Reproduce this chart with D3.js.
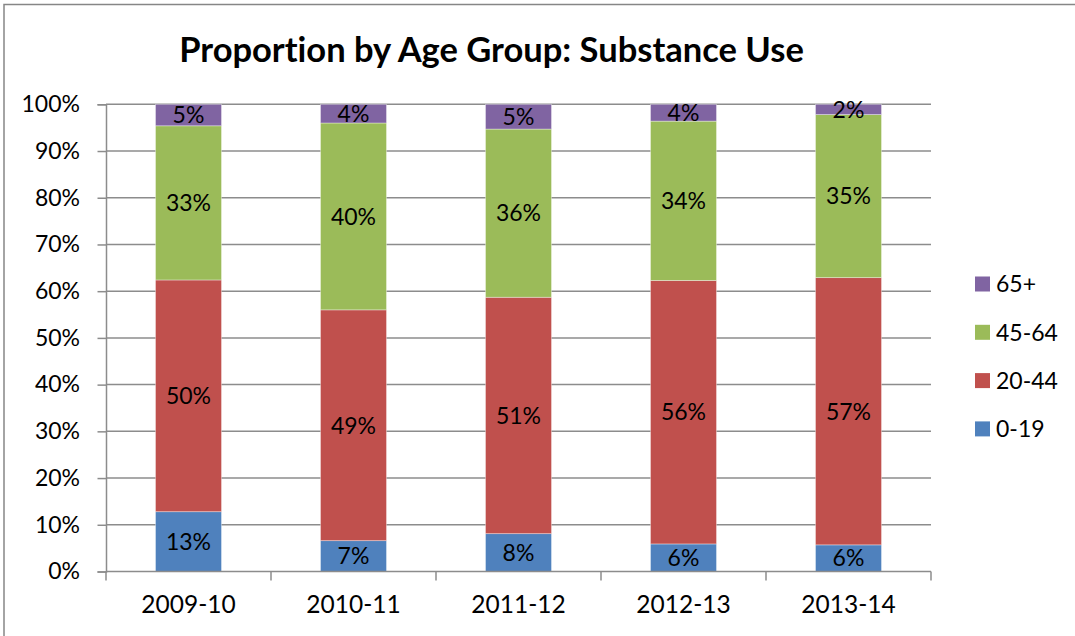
<!DOCTYPE html>
<html>
<head>
<meta charset="utf-8">
<script src="https://cdn.jsdelivr.net/npm/d3@7"></script>
<style>
  html, body { margin: 0; padding: 0; background: #fff; }
  svg { display: block; font-family: Lato, "Open Sans", sans-serif; font-variant-ligatures: none; }
</style>
</head>
<body>
<svg id="chart" width="1075" height="636"></svg>
<script>
// Fiscal years on the x axis
const years = ["2009-10", "2010-11", "2011-12", "2012-13", "2013-14"];

// Share of each age group per year (fractions of 1)
const age0to19  = [0.128, 0.066, 0.081, 0.059, 0.057];
const age20to44 = [0.496, 0.494, 0.506, 0.564, 0.572];
const age45to64 = [0.330, 0.400, 0.360, 0.341, 0.349];
const age65plus = [0.046, 0.040, 0.053, 0.036, 0.022];

const groups = ["0-19", "20-44", "45-64", "65+"];
const groupColors = ["#4F81BD", "#C0504D", "#9BBB59", "#8064A2"];

const yTicks = [0, 0.1, 0.2, 0.3, 0.4, 0.5, 0.6, 0.7, 0.8, 0.9, 1.0];

const rows = years.map((y, i) => ({
  year: y,
  "0-19": age0to19[i],
  "20-44": age20to44[i],
  "45-64": age45to64[i],
  "65+": age65plus[i]
}));

const svg = d3.select("#chart");
const W = 1075, H = 636;
const plot = { left: 106, right: 931, top: 104.3, bottom: 571.5 };
const fontSize = 23;
const axisGray = "#8c8c8c";

// Chart frame
svg.append("rect")
  .attr("x", 4).attr("y", 4.5)
  .attr("width", W + 10).attr("height", H + 10)
  .attr("fill", "#fff")
  .attr("stroke", "#868686").attr("stroke-width", 1.5);

// Title
svg.append("text")
  .attr("x", 491.5).attr("y", 62)
  .attr("text-anchor", "middle")
  .attr("font-weight", "bold")
  .attr("font-size", 34.5)
  .attr("fill", "#000")
  .text("Proportion by Age Group: Substance Use");

const x = d3.scaleBand()
  .domain(years)
  .range([plot.left, plot.right])
  .paddingInner(0.6)
  .paddingOuter(0.3);

const y = d3.scaleLinear()
  .domain([0, 1])
  .range([plot.bottom, plot.top]);

// Horizontal gridlines
svg.append("g")
  .selectAll("line")
  .data(yTicks.filter(t => t > 0))
  .join("line")
  .attr("x1", plot.left).attr("x2", plot.right)
  .attr("y1", d => y(d)).attr("y2", d => y(d))
  .attr("stroke", axisGray).attr("stroke-width", 1.5);

// Y axis
const yAxis = d3.axisLeft(y)
  .tickValues(yTicks)
  .tickFormat(d3.format(".0%"))
  .tickSize(8.5)
  .tickPadding(17.5);
const gy = svg.append("g")
  .attr("transform", `translate(${plot.left},0)`)
  .call(yAxis);
gy.select(".domain").attr("stroke", axisGray).attr("stroke-width", 1.5);
gy.selectAll(".tick line").attr("stroke", axisGray).attr("stroke-width", 1.5);
gy.selectAll(".tick text")
  .attr("font-size", fontSize).attr("fill", "#000")
  .attr("font-family", "Lato, sans-serif");

// Stacked bars
const stack = d3.stack().keys(groups);
const series = stack(rows);

const layers = svg.append("g")
  .selectAll("g")
  .data(series)
  .join("g")
  .attr("fill", (d, i) => groupColors[i]);

layers.selectAll("rect")
  .data(d => d)
  .join("rect")
  .attr("x", d => x(d.data.year))
  .attr("width", x.bandwidth())
  .attr("y", d => y(d[1]))
  .attr("height", d => y(d[0]) - y(d[1]))
  .attr("stroke", "rgba(255,255,255,0.45)")
  .attr("stroke-width", 0.8);

// Segment value labels
const pct = d3.format(".0%");
series.forEach(s => {
  svg.append("g")
    .selectAll("text")
    .data(s)
    .join("text")
    .attr("x", d => x(d.data.year) + x.bandwidth() / 2)
    .attr("y", d => (y(d[0]) + y(d[1])) / 2)
    .attr("dy", "0.36em")
    .attr("text-anchor", "middle")
    .attr("font-size", fontSize)
    .attr("fill", "#000")
    .text(d => pct(d[1] - d[0]));
});

// X axis labels
const xAxis = d3.axisBottom(x).tickSize(0).tickPadding(24);
const gx = svg.append("g")
  .attr("transform", `translate(0,${plot.bottom})`)
  .call(xAxis);
gx.select(".domain").remove();
gx.selectAll(".tick text")
  .attr("font-size", 24.5).attr("fill", "#000")
  .attr("font-family", "Lato, sans-serif");

// X axis line and category boundary ticks
svg.append("line")
  .attr("x1", plot.left).attr("x2", plot.right)
  .attr("y1", plot.bottom).attr("y2", plot.bottom)
  .attr("stroke", axisGray).attr("stroke-width", 1.5);

const cell = (plot.right - plot.left) / years.length;
const boundaries = d3.range(years.length + 1).map(i => plot.left + i * cell);
svg.append("g")
  .selectAll("line")
  .data(boundaries)
  .join("line")
  .attr("x1", d => d).attr("x2", d => d)
  .attr("y1", plot.bottom).attr("y2", plot.bottom + 9)
  .attr("stroke", axisGray).attr("stroke-width", 1.5);

// Legend (top-down: oldest group first)
const legendOrder = groups.slice().reverse();
const legend = svg.append("g")
  .selectAll("g")
  .data(legendOrder)
  .join("g")
  .attr("transform", (d, i) => `translate(975,${284 + i * 48.3})`);

legend.append("rect")
  .attr("x", 0).attr("y", -7.5)
  .attr("width", 15).attr("height", 15)
  .attr("fill", d => groupColors[groups.indexOf(d)]);

legend.append("text")
  .attr("x", 21).attr("y", 0)
  .attr("dy", "0.36em")
  .attr("font-size", fontSize)
  .attr("fill", "#000")
  .text(d => d);
</script>
</body>
</html>
